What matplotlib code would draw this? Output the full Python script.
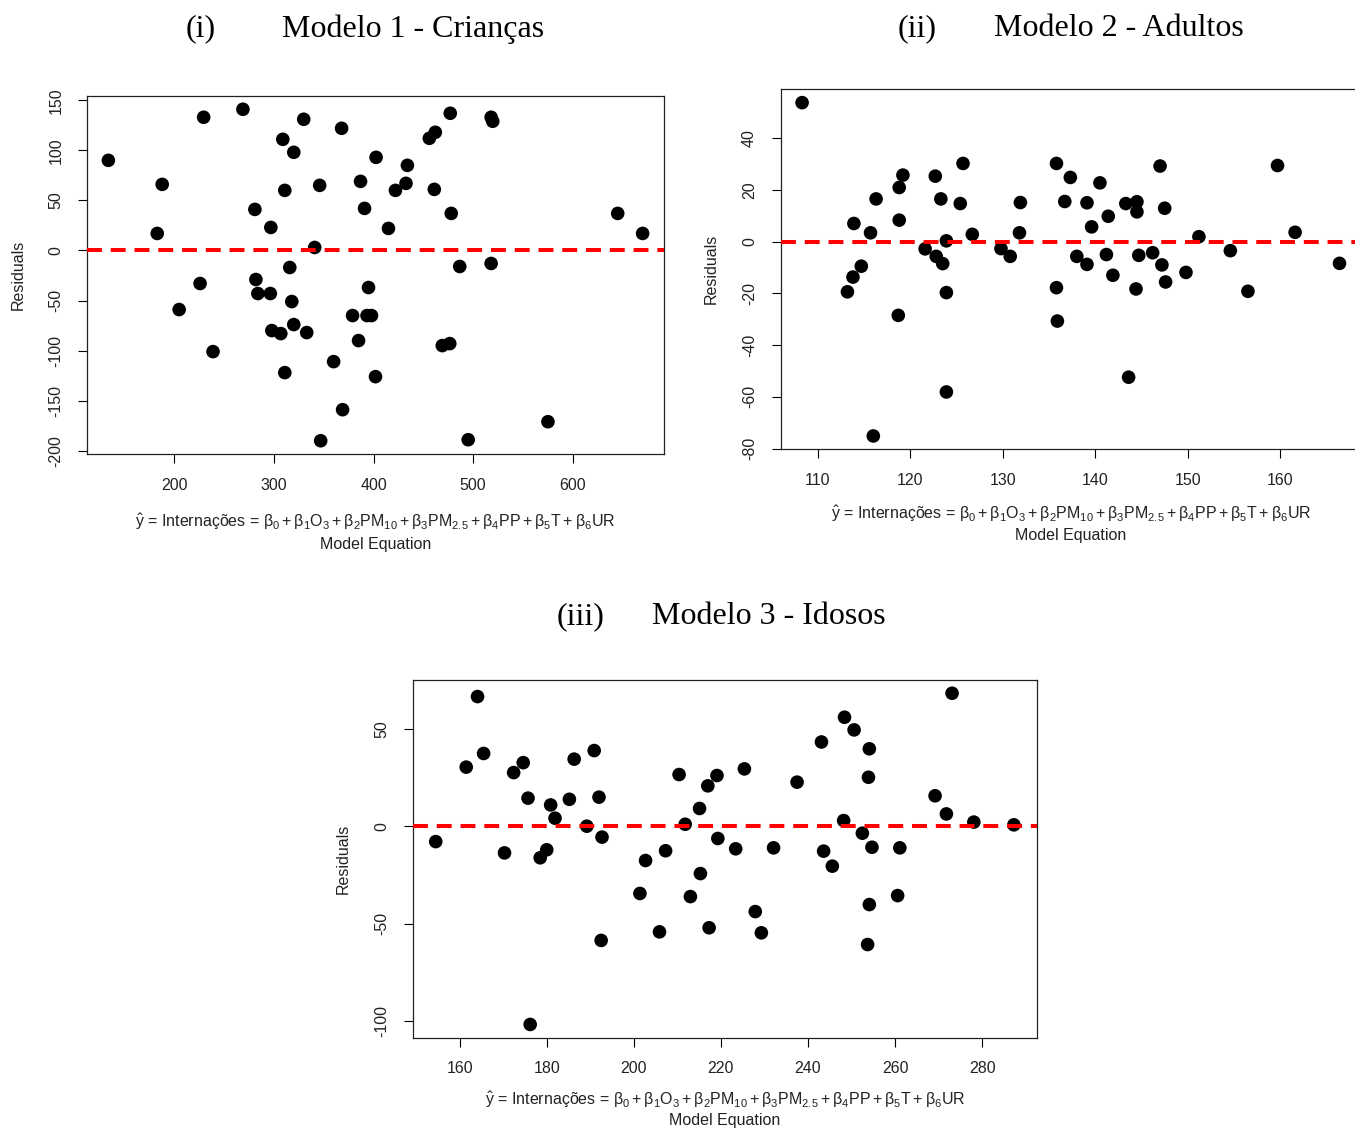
import numpy as np
import matplotlib
matplotlib.use('Agg')
import matplotlib.pyplot as plt

plt.rcParams['font.family'] = ['Liberation Sans', 'DejaVu Sans']
plt.rcParams['mathtext.fontset'] = 'custom'
plt.rcParams['mathtext.rm'] = 'Liberation Sans'
plt.rcParams['mathtext.it'] = 'Liberation Sans:italic'
plt.rcParams['mathtext.default'] = 'regular'
plt.rcParams['axes.unicode_minus'] = False

# Modelo 1 - Criancas: fitted values and residuals
fit1 = [134, 188, 183, 229.6, 226, 205, 239, 269, 281, 282, 284, 296.5, 297, 298, 307,
        309, 311, 311, 316, 320, 318, 320, 330, 333, 341, 346, 347, 360, 368, 369,
        379, 385, 387, 391, 395, 393.5, 398, 402.6, 402, 415, 422, 432.6, 434, 456, 462,
        461, 469, 476.5, 477, 478, 486.5, 495, 518, 519.6, 518, 575, 645, 670]
res1 = [90, 66, 17, 133, -33, -59, -101, 141, 41, -29, -43, -43, 23, -80, -83,
        111, 60, -122, -17, 98, -51, -74, 131, -82, 3, 65, -190, -111, 122, -159,
        -65, -90, 69, 42, -37, -65, -65, 93, -126, 22, 60, 67, 85, 112, 118,
        61, -95, -93, 137, 37, -16, -189, 133, 129, -13, -171, 37, 17]

# Modelo 2 - Adultos
fit2 = [108.3, 113.9, 113.2, 113.8, 114.7, 115.7, 116.3, 116.0, 118.8, 119.2, 118.8, 118.7,
        121.6, 122.7, 122.8, 123.3, 123.5, 123.9, 123.9, 123.9, 125.4, 125.7, 126.7, 129.8,
        130.8, 131.8, 131.9, 135.8, 135.8, 135.9, 136.7, 137.3, 138.0, 139.1, 139.1, 139.6,
        140.5, 141.2, 141.4, 141.9, 143.3, 144.5, 144.5, 144.7, 144.4, 143.6, 146.2, 147.0,
        147.2, 147.5, 147.6, 149.8, 151.2, 154.6, 156.5, 159.7, 161.6, 166.4]
res2 = [53.7, 7.0, -19.4, -13.7, -9.5, 3.4, 16.5, -75.1, 20.9, 25.7, 8.3, -28.5,
        -2.8, 25.3, -5.7, 16.5, -8.5, 0.3, -19.7, -58.1, 14.7, 30.2, 2.8, -2.7,
        -5.7, 3.4, 15.1, 30.2, -17.8, -30.7, 15.5, 24.8, -5.7, 15.0, -8.8, 5.7,
        22.7, -5.0, 9.8, -13.0, 14.7, 15.4, 11.5, -5.3, -18.3, -52.4, -4.3, 29.2,
        -9.0, 12.9, -15.6, -11.9, 1.9, -3.5, -19.2, 29.4, 3.6, -8.4]

# Modelo 3 - Idosos
fit3 = [154.5, 161.5, 164.1, 165.5, 170.3, 172.4, 174.6, 175.7, 176.2, 178.5, 180.0, 180.9,
        181.9, 185.2, 186.3, 189.2, 190.9, 192.0, 192.7, 192.5, 201.4, 202.7, 205.9, 207.3,
        210.4, 211.8, 213.0, 215.1, 215.3, 217.0, 217.3, 219.1, 219.3, 223.4, 225.4, 227.9,
        229.3, 232.1, 237.5, 243.1, 243.6, 245.6, 248.4, 248.2, 250.6, 252.5, 254.1, 253.9,
        254.1, 253.7, 254.7, 260.6, 261.1, 269.2, 271.8, 273.1, 278.1, 287.3]
res3 = [-7.9, 30.3, 66.5, 37.3, -13.7, 27.5, 32.6, 14.4, -101.7, -16.2, -12.1, 10.9,
        4.1, 13.8, 34.4, 0.0, 38.8, 14.9, -5.6, -58.6, -34.5, -17.6, -54.2, -12.6,
        26.5, 1.0, -36.1, 9.1, -24.3, 20.7, -52.1, 26.0, -6.3, -11.6, 29.4, -43.8,
        -54.7, -11.1, 22.6, 43.2, -12.8, -20.5, 55.9, 2.9, 49.4, -3.6, 39.7, 25.1,
        -40.2, -60.7, -10.8, -35.6, -11.1, 15.6, 6.3, 68.2, 2.1, 0.7]

xticks1 = [200, 300, 400, 500, 600]
yticks1 = [-200, -150, -100, -50, 0, 50, 100, 150]
xticks2 = [110, 120, 130, 140, 150, 160]
yticks2 = [-80, -60, -40, -20, 0, 20, 40]
xticks3 = [160, 180, 200, 220, 240, 260, 280]
yticks3 = [-100, -50, 0, 50]

titles = [('(i)', 'Modelo 1 - Crianças'),
          ('(ii)', 'Modelo 2 - Adultos'),
          ('(iii)', 'Modelo 3 - Idosos')]

equation = (r'$\hat{y}$ = Internações = $\beta_0 + \beta_1 O_3 + \beta_2 PM_{10} + '
            r'\beta_3 PM_{2.5} + \beta_4 PP + \beta_5 T + \beta_6 UR$')

W, H = 1355, 1129
fig = plt.figure(figsize=(W / 100, H / 100), dpi=100)


def px_axes(left, top, right, bottom):
    # axes box given in pixel coordinates of the picture
    return fig.add_axes([left / W, 1 - bottom / H, (right - left) / W, (bottom - top) / H])


def residual_plot(ax, x, r, xt, yt, box, eq_off, lab_off):
    ax.scatter(x, r, s=96, color='black', edgecolors='none', zorder=2)
    ax.axhline(0, color='red', lw=2.9, dashes=(3.7, 2.2), dash_capstyle='butt', zorder=3)
    # R style 4% padding around the data
    xr = max(x) - min(x)
    yr = max(r) - min(r)
    ax.set_xlim(min(x) - 0.04 * xr, max(x) + 0.04 * xr)
    ax.set_ylim(min(r) - 0.04 * yr, max(r) + 0.04 * yr)
    ax.set_xticks(xt)
    ax.set_yticks(yt)
    ax.tick_params(direction='out', length=6.5, width=0.8, pad=10.5,
                   labelsize=11.5, colors='black', labelcolor='#222222')
    for lab in ax.get_yticklabels():
        lab.set_rotation(90)
        lab.set_va('center')
    for sp in ax.spines.values():
        sp.set_linewidth(0.9)
        sp.set_color('#222222')
    left, top, right, bottom = box
    wpx = right - left
    ax.text(-69 / wpx, 0.5, 'Residuals', transform=ax.transAxes, rotation=90,
            ha='center', va='center', fontsize=11.5, color='#222222')
    ax.annotate(equation, xy=(0.5, 0), xycoords='axes fraction',
                xytext=(0, -eq_off * 0.72), textcoords='offset points',
                ha='center', va='center', fontsize=11.5, color='#222222')
    ax.annotate('Model Equation', xy=(0.5, 0), xycoords='axes fraction',
                xytext=(0, -lab_off * 0.72), textcoords='offset points',
                ha='center', va='center', fontsize=11.5, color='#222222')


box1 = (87, 96, 664, 454)
box2 = (780.6, 89.3, 1361, 449.3)
box3 = (412.6, 680, 1037, 1037.7)

ax1 = px_axes(*box1)
residual_plot(ax1, fit1, res1, xticks1, yticks1, box1, 68, 91)
ax2 = px_axes(*box2)
residual_plot(ax2, fit2, res2, xticks2, yticks2, box2, 64, 86)
ax3 = px_axes(*box3)
residual_plot(ax3, fit3, res3, xticks3, yticks3, box3, 62, 83)

# panel titles in a Times-like serif
title_pos = [(186, 282, 29), (898, 994, 29), (557, 652, 617)]
for (tag, name), (xa, xb, yc) in zip(titles, title_pos):
    fig.text(xa / W, 1 - yc / H, tag, ha='left', va='center', fontsize=23,
             family='Liberation Serif')
    fig.text(xb / W, 1 - yc / H, name, ha='left', va='center', fontsize=23,
             family='Liberation Serif')

fig.savefig('out.png', dpi=100)
